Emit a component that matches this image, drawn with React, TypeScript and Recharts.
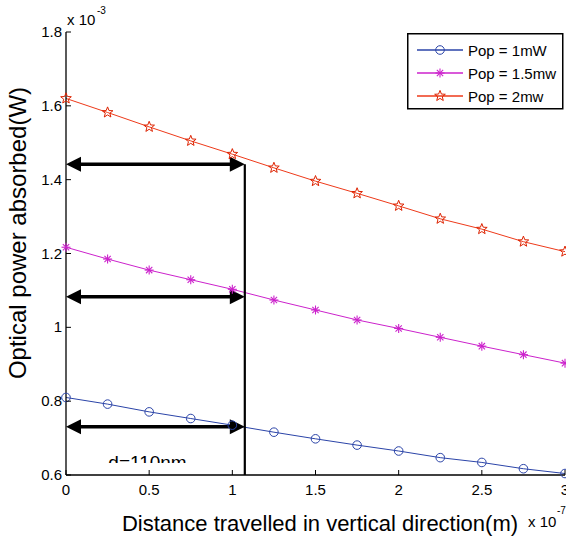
import React from 'react';
import { LineChart, Line, XAxis, YAxis, ReferenceLine, ReferenceDot, Legend } from 'recharts';

// distance in units of 1e-7 m
const distances = [0, 0.25, 0.5, 0.75, 1, 1.25, 1.5, 1.75, 2, 2.25, 2.5, 2.75, 3];
// optical power absorbed in units of 1e-3 W
const pop1mW = [0.810, 0.792, 0.771, 0.753, 0.735, 0.716, 0.698, 0.681, 0.665, 0.647, 0.634, 0.617, 0.604];
const pop15mW = [1.217, 1.185, 1.155, 1.129, 1.103, 1.074, 1.047, 1.020, 0.997, 0.973, 0.949, 0.926, 0.903];
const pop2mW = [1.620, 1.582, 1.543, 1.505, 1.469, 1.432, 1.396, 1.363, 1.329, 1.294, 1.266, 1.232, 1.205];

const xTicks = [0, 0.5, 1, 1.5, 2, 2.5, 3];
const yTicks = [0.6, 0.8, 1, 1.2, 1.4, 1.6, 1.8];
const xTickLabels = ['0', '0.5', '1', '1.5', '2', '2.5', '3'];
const yTickLabels = ['0.6', '0.8', '1', '1.2', '1.4', '1.6', '1.8'];

const seriesNames = ['Pop = 1mW', 'Pop = 1.5mw', 'Pop = 2mw'];

// annotation values
const cutDistance = 1.075;
const arrowLevels = [1.4416, 1.083, 0.731];
const annotationText = 'd=110nm';

const rows = distances.map((x, i) => ({ x, a: pop1mW[i], b: pop15mW[i], c: pop2mW[i] }));

const FONT = '"Liberation Sans", Arial, Helvetica, sans-serif';
const BLUE = '#2b44a8';
const MAGENTA = '#cc22cc';
const RED = '#ee3a1a';
const STAR_RED = '#dd2200';

const starPoints = (cx: number, cy: number, ro: number, ri: number) => {
  const pts: string[] = [];
  for (let k = 0; k < 10; k++) {
    const r = k % 2 === 0 ? ro : ri;
    const ang = -Math.PI / 2 + (k * Math.PI) / 5;
    pts.push(`${cx + r * Math.cos(ang)},${cy + r * Math.sin(ang)}`);
  }
  return pts.join(' ');
};

const CircleMark = ({ cx, cy }: { cx: number; cy: number }) => (
  <circle cx={cx} cy={cy} r={4.3} fill="none" stroke={BLUE} strokeWidth={1} />
);
const AsteriskMark = ({ cx, cy }: { cx: number; cy: number }) => {
  const r = 4.5;
  const d = r * 0.7;
  return (
    <g stroke={MAGENTA} strokeWidth={1.1}>
      <line x1={cx - r} y1={cy} x2={cx + r} y2={cy} />
      <line x1={cx} y1={cy - r} x2={cx} y2={cy + r} />
      <line x1={cx - d} y1={cy - d} x2={cx + d} y2={cy + d} />
      <line x1={cx - d} y1={cy + d} x2={cx + d} y2={cy - d} />
    </g>
  );
};
const StarMark = ({ cx, cy }: { cx: number; cy: number }) => (
  <polygon points={starPoints(cx, cy, 5.6, 2.4)} fill="none" stroke={STAR_RED} strokeWidth={1} />
);

const dotCircle = (p: any) => <CircleMark key={`c${p.index}`} cx={p.cx} cy={p.cy} />;
const dotAsterisk = (p: any) => <AsteriskMark key={`a${p.index}`} cx={p.cx} cy={p.cy} />;
const dotStar = (p: any) => <StarMark key={`s${p.index}`} cx={p.cx} cy={p.cy} />;

const XTick = (p: any) => {
  const { x, y, index } = p;
  return (
    <g>
      <line x1={x} y1={y} x2={x} y2={y - 5} stroke="#000" strokeWidth={1} />
      <text x={x} y={y + 20} textAnchor="middle" fontSize={15} fontFamily={FONT} fill="#000">
        {xTickLabels[index]}
      </text>
    </g>
  );
};

const YTick = (p: any) => {
  const { x, y, index } = p;
  return (
    <g>
      <line x1={x} y1={y} x2={x + 5} y2={y} stroke="#000" strokeWidth={1} />
      <text x={x - 4} y={y + 5} textAnchor="end" fontSize={15} fontFamily={FONT} fill="#000">
        {yTickLabels[index]}
      </text>
    </g>
  );
};

const XLabel = () => (
  <g fontFamily={FONT} fill="#000">
    <text x={320} y={531} textAnchor="middle" fontSize={22}>
      Distance travelled in vertical direction(m)
    </text>
    <text x={528} y={527} fontSize={15}>x 10</text>
    <text x={557} y={514} fontSize={10}>-7</text>
  </g>
);

const YLabel = () => (
  <g fontFamily={FONT} fill="#000">
    <text x={26} y={233} textAnchor="middle" fontSize={24} transform="rotate(-90, 26, 233)">
      Optical power absorbed(W)
    </text>
    <text x={67} y={25} fontSize={15}>x 10</text>
    <text x={97} y={14} fontSize={10}>-3</text>
  </g>
);

const arrowShape = (p: any) => {
  const { x1, y1, x2, y2 } = p;
  const left = Math.min(x1, x2);
  const right = Math.max(x1, x2);
  const y = y1;
  const hl = 15;
  const hh = 7.5;
  return (
    <g>
      <line x1={left + hl - 2} y1={y} x2={right - hl + 2} y2={y2} stroke="#000" strokeWidth={3.5} />
      <polygon points={`${left},${y} ${left + hl},${y - hh} ${left + hl},${y + hh}`} fill="#000" />
      <polygon points={`${right},${y} ${right - hl},${y - hh} ${right - hl},${y + hh}`} fill="#000" />
    </g>
  );
};

const textShape = (p: any) => {
  const { cx, cy } = p;
  return (
    <g>
      <defs>
        <clipPath id="dtextclip">
          <rect x={cx - 70} y={cy - 30} width={140} height={24} />
        </clipPath>
      </defs>
      <text x={cx} y={cy} textAnchor="middle" fontSize={19} fontFamily={FONT} fill="#000" clipPath="url(#dtextclip)">
        {annotationText}
      </text>
    </g>
  );
};

const legendSeries = [
  { name: seriesNames[0], color: BLUE, Mark: CircleMark },
  { name: seriesNames[1], color: MAGENTA, Mark: AsteriskMark },
  { name: seriesNames[2], color: RED, Mark: StarMark },
];

const LegendBox = () => (
  <svg width={157} height={77} style={{ display: 'block' }}>
    <rect x={0.75} y={0.75} width={155} height={75} fill="#fff" stroke="#000" strokeWidth={1.5} />
    {legendSeries.map((s, i) => {
      const y = 17 + i * 23;
      const M = s.Mark;
      return (
        <g key={s.name}>
          <line x1={10} y1={y} x2={56} y2={y} stroke={s.color} strokeWidth={1.3} />
          <M cx={33} cy={y} />
          <text x={61} y={y + 5.5} fontSize={15} fontFamily={FONT} fill="#000">
            {s.name}
          </text>
        </g>
      );
    })}
  </svg>
);

export default function App() {
  return (
    <div style={{ position: 'absolute', left: 0, top: 0, width: 566, height: 540, background: '#fff' }}>
      <LineChart width={566} height={540} data={rows} margin={{ top: 32, right: 1, bottom: 0, left: 0 }}>
        <XAxis
          xAxisId="b"
          dataKey="x"
          type="number"
          domain={[0, 3]}
          ticks={xTicks}
          height={65}
          tickSize={0}
          tickMargin={0}
          tickLine={false}
          tick={<XTick />}
          axisLine={{ stroke: '#000', strokeWidth: 1.3 }}
          interval={0}
          label={<XLabel />}
        />
        <XAxis
          xAxisId="t"
          orientation="top"
          mirror
          type="number"
          dataKey="x"
          domain={[0, 3]}
          ticks={xTicks}
          height={0}
          tickSize={5}
          tick={false}
          tickLine={{ stroke: '#000' }}
          axisLine={{ stroke: '#000', strokeWidth: 1.3 }}
          interval={0}
        />
        <YAxis
          yAxisId="l"
          type="number"
          domain={[0.6, 1.8]}
          ticks={yTicks}
          width={66}
          tickSize={0}
          tickMargin={0}
          tickLine={false}
          tick={<YTick />}
          axisLine={{ stroke: '#000', strokeWidth: 1.3 }}
          interval={0}
          label={<YLabel />}
        />
        <YAxis
          yAxisId="r"
          orientation="right"
          mirror
          type="number"
          domain={[0.6, 1.8]}
          ticks={yTicks}
          width={0}
          tickSize={5}
          tick={false}
          tickLine={{ stroke: '#000' }}
          axisLine={{ stroke: '#000', strokeWidth: 1.3 }}
          interval={0}
        />
        <Line xAxisId="b" yAxisId="l" type="linear" dataKey="a" name={seriesNames[0]} stroke={BLUE} strokeWidth={1} dot={dotCircle} activeDot={false} isAnimationActive={false} />
        <Line xAxisId="b" yAxisId="l" type="linear" dataKey="b" name={seriesNames[1]} stroke={MAGENTA} strokeWidth={1} dot={dotAsterisk} activeDot={false} isAnimationActive={false} />
        <Line xAxisId="b" yAxisId="l" type="linear" dataKey="c" name={seriesNames[2]} stroke={RED} strokeWidth={1} dot={dotStar} activeDot={false} isAnimationActive={false} />
        <ReferenceLine
          xAxisId="b"
          yAxisId="l"
          segment={[{ x: cutDistance, y: arrowLevels[0] }, { x: cutDistance, y: 0.6 }]}
          stroke="#000"
          strokeWidth={2.2}
        />
        {arrowLevels.map((lv) => (
          <ReferenceLine
            key={lv}
            xAxisId="b"
            yAxisId="l"
            segment={[{ x: 0, y: lv }, { x: cutDistance, y: lv }]}
            shape={arrowShape}
          />
        ))}
        <ReferenceDot xAxisId="b" yAxisId="l" x={0.49} y={0.616} r={1} shape={textShape} />
        <Legend
          verticalAlign="middle"
          align="center"
          layout="horizontal"
          width={157}
          height={77}
          content={<LegendBox />}
          wrapperStyle={{ position: 'absolute', left: 407, top: 33, width: 157, height: 77 }}
        />
      </LineChart>
    </div>
  );
}
